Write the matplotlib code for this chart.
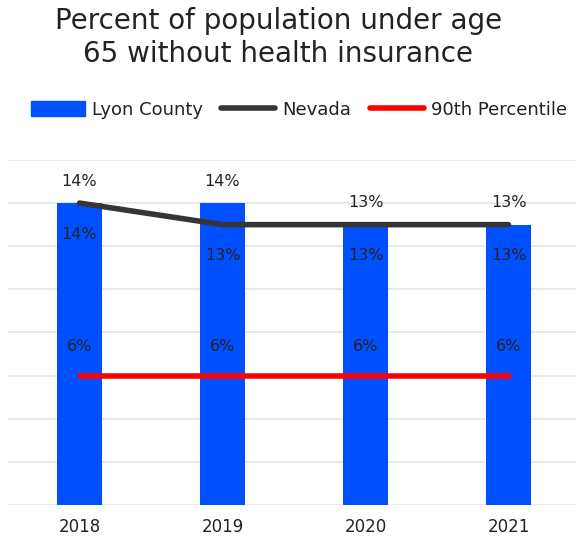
import numpy as np
import matplotlib
matplotlib.use("Agg")
import matplotlib.pyplot as plt
from matplotlib.lines import Line2D
from matplotlib.patches import Patch

plt.rcParams["font.family"] = ["DejaVu Sans"]

years = ["2018", "2019", "2020", "2021"]
lyon = [14, 14, 13, 13]
nevada = [14, 13, 13, 13]
pct90 = [6, 6, 6, 6]

blue = "#0050ff"
gray = "#353535"
red = "#ff0000"
txt = "#222222"

fig = plt.figure(figsize=(5.76, 5.4), dpi=100)
ax = fig.add_axes([0.014, 0.0648, 0.993, 0.639])

x = np.arange(len(years))
ax.bar(x, lyon, width=0.31, color=blue, zorder=2)
ax.plot(x, nevada, color=gray, lw=4, solid_capstyle="round", zorder=3)
ax.plot(x, pct90, color=red, lw=4, solid_capstyle="round", zorder=3)

# value labels: county above bars, state under its line, percentile above its line
for xi, v in zip(x, lyon):
    ax.annotate(f"{v}%", (xi, v), xytext=(0, 22), textcoords="offset pixels",
                ha="center", va="center", fontsize=11.5, color=txt, zorder=4)
for xi, v in zip(x, nevada):
    ax.annotate(f"{v}%", (xi, v), xytext=(0, -31), textcoords="offset pixels",
                ha="center", va="center", fontsize=11.5, color=txt, zorder=4)
for xi, v in zip(x, pct90):
    ax.annotate(f"{v}%", (xi, v), xytext=(0, 29), textcoords="offset pixels",
                ha="center", va="center", fontsize=11.5, color=txt, zorder=4)

ax.set_xlim(-0.5, 3.5)
ax.set_ylim(0, 16)
ax.set_yticks(np.arange(0, 17, 2))
ax.yaxis.grid(True, color="#e4e4e4", lw=1.2, zorder=0)
ax.tick_params(axis="y", left=False, labelleft=False)
ax.tick_params(axis="x", length=0, pad=9, labelsize=12, labelcolor=txt)
ax.set_xticks(x)
ax.set_xticklabels(years)
for s in ax.spines.values():
    s.set_visible(False)

fig.text(0.483, 1 - 37.5 / 540, "Percent of population under age\n65 without health insurance",
         ha="center", va="center", fontsize=20, color=txt, linespacing=1.25)

handles = [Patch(color=blue), Line2D([], [], color=gray, lw=4, solid_capstyle="round"),
           Line2D([], [], color=red, lw=4, solid_capstyle="round")]
fig.legend(handles, ["Lyon County", "Nevada", "90th Percentile"], loc="center",
           bbox_to_anchor=(0.519, 1 - 110 / 540), ncol=3, frameon=False, fontsize=13,
           handlelength=3.0, handleheight=0.9, handletextpad=0.4, columnspacing=1.0,
           labelcolor=txt)

fig.savefig("out.png", dpi=100)
